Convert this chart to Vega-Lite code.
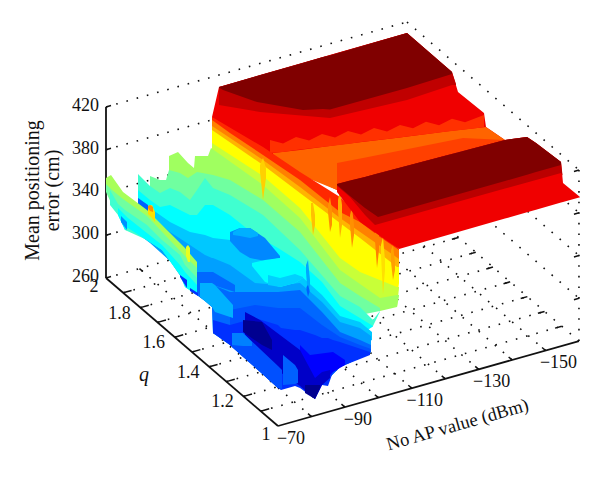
{"$schema":"https://vega.github.io/schema/vega-lite/v6.json","width":600,"height":478,"padding":0,"autosize":{"type":"none"},"background":"white","view":{"stroke":null},
"datasets":{
"frame":[
{"k":"grid","a":-70,"q":1.1,"z":260,"a2":-160,"q2":1.1,"z2":260},{"k":"grid","a":-70,"q":1.2,"z":260,"a2":-160,"q2":1.2,"z2":260},{"k":"grid","a":-70,"q":1.3,"z":260,"a2":-160,"q2":1.3,"z2":260},{"k":"grid","a":-70,"q":1.4,"z":260,"a2":-160,"q2":1.4,"z2":260},{"k":"grid","a":-70,"q":1.5,"z":260,"a2":-160,"q2":1.5,"z2":260},{"k":"grid","a":-70,"q":1.6,"z":260,"a2":-160,"q2":1.6,"z2":260},{"k":"grid","a":-70,"q":1.7,"z":260,"a2":-160,"q2":1.7,"z2":260},{"k":"grid","a":-70,"q":1.8,"z":260,"a2":-160,"q2":1.8,"z2":260},{"k":"grid","a":-70,"q":1.9,"z":260,"a2":-160,"q2":1.9,"z2":260},{"k":"grid","a":-70,"q":2,"z":260,"a2":-160,"q2":2,"z2":260},
{"k":"grid","a":-80,"q":1,"z":260,"a2":-80,"q2":2,"z2":260},{"k":"grid","a":-90,"q":1,"z":260,"a2":-90,"q2":2,"z2":260},{"k":"grid","a":-100,"q":1,"z":260,"a2":-100,"q2":2,"z2":260},{"k":"grid","a":-110,"q":1,"z":260,"a2":-110,"q2":2,"z2":260},{"k":"grid","a":-120,"q":1,"z":260,"a2":-120,"q2":2,"z2":260},{"k":"grid","a":-130,"q":1,"z":260,"a2":-130,"q2":2,"z2":260},{"k":"grid","a":-140,"q":1,"z":260,"a2":-140,"q2":2,"z2":260},{"k":"grid","a":-150,"q":1,"z":260,"a2":-150,"q2":2,"z2":260},{"k":"grid","a":-160,"q":1,"z":260,"a2":-160,"q2":2,"z2":260},
{"k":"grid","a":-70,"q":2,"z":300,"a2":-160,"q2":2,"z2":300},{"k":"grid","a":-70,"q":2,"z":340,"a2":-160,"q2":2,"z2":340},{"k":"grid","a":-70,"q":2,"z":380,"a2":-160,"q2":2,"z2":380},{"k":"grid","a":-70,"q":2,"z":420,"a2":-160,"q2":2,"z2":420},
{"k":"grid","a":-160,"q":2,"z":300,"a2":-160,"q2":1,"z2":300},{"k":"grid","a":-160,"q":2,"z":340,"a2":-160,"q2":1,"z2":340},{"k":"grid","a":-160,"q":2,"z":380,"a2":-160,"q2":1,"z2":380},{"k":"grid","a":-160,"q":2,"z":420,"a2":-160,"q2":1,"z2":420},
{"k":"grid","a":-160,"q":1,"z":260,"a2":-160,"q2":1,"z2":420},
{"k":"axis","a":-70,"q":2,"z":260,"a2":-70,"q2":2,"z2":420},{"k":"axis","a":-70,"q":2,"z":260,"a2":-70,"q2":1,"z2":260},{"k":"axis","a":-70,"q":1,"z":260,"a2":-160,"q2":1,"z2":260},
{"k":"tick","a":-70,"q":2,"z":300,"a2":-71.5,"q2":2,"z2":300},{"k":"tick","a":-70,"q":2,"z":340,"a2":-71.5,"q2":2,"z2":340},{"k":"tick","a":-70,"q":2,"z":380,"a2":-71.5,"q2":2,"z2":380},{"k":"tick","a":-70,"q":2,"z":420,"a2":-71.5,"q2":2,"z2":420},{"k":"tick","a":-70,"q":2,"z":260,"a2":-71.5,"q2":2,"z2":260},
{"k":"tick","a":-70,"q":1.1,"z":260,"a2":-72.5,"q2":1.1,"z2":260},{"k":"tick","a":-70,"q":1.2,"z":260,"a2":-72.5,"q2":1.2,"z2":260},{"k":"tick","a":-70,"q":1.3,"z":260,"a2":-72.5,"q2":1.3,"z2":260},{"k":"tick","a":-70,"q":1.4,"z":260,"a2":-72.5,"q2":1.4,"z2":260},{"k":"tick","a":-70,"q":1.5,"z":260,"a2":-72.5,"q2":1.5,"z2":260},{"k":"tick","a":-70,"q":1.6,"z":260,"a2":-72.5,"q2":1.6,"z2":260},{"k":"tick","a":-70,"q":1.7,"z":260,"a2":-72.5,"q2":1.7,"z2":260},{"k":"tick","a":-70,"q":1.8,"z":260,"a2":-72.5,"q2":1.8,"z2":260},{"k":"tick","a":-70,"q":1.9,"z":260,"a2":-72.5,"q2":1.9,"z2":260},
{"k":"tick","a":-80,"q":1,"z":260,"a2":-80,"q2":1.02,"z2":260},{"k":"tick","a":-90,"q":1,"z":260,"a2":-90,"q2":1.02,"z2":260},{"k":"tick","a":-100,"q":1,"z":260,"a2":-100,"q2":1.02,"z2":260},{"k":"tick","a":-110,"q":1,"z":260,"a2":-110,"q2":1.02,"z2":260},{"k":"tick","a":-120,"q":1,"z":260,"a2":-120,"q2":1.02,"z2":260},{"k":"tick","a":-130,"q":1,"z":260,"a2":-130,"q2":1.02,"z2":260},{"k":"tick","a":-140,"q":1,"z":260,"a2":-140,"q2":1.02,"z2":260},{"k":"tick","a":-150,"q":1,"z":260,"a2":-150,"q2":1.02,"z2":260},
{"k":"tick","a":-160,"q":1.1,"z":260,"a2":-158,"q2":1.1,"z2":260},{"k":"tick","a":-160,"q":1.2,"z":260,"a2":-158,"q2":1.2,"z2":260},{"k":"tick","a":-160,"q":1.3,"z":260,"a2":-158,"q2":1.3,"z2":260},{"k":"tick","a":-160,"q":1.4,"z":260,"a2":-158,"q2":1.4,"z2":260},{"k":"tick","a":-160,"q":1.5,"z":260,"a2":-158,"q2":1.5,"z2":260},{"k":"tick","a":-160,"q":1.6,"z":260,"a2":-158,"q2":1.6,"z2":260},{"k":"tick","a":-160,"q":1.7,"z":260,"a2":-158,"q2":1.7,"z2":260},{"k":"tick","a":-160,"q":1.8,"z":260,"a2":-158,"q2":1.8,"z2":260},{"k":"tick","a":-160,"q":1.9,"z":260,"a2":-158,"q2":1.9,"z2":260},
{"k":"tick","a":-80,"q":2,"z":260,"a2":-80,"q2":1.98,"z2":260},{"k":"tick","a":-90,"q":2,"z":260,"a2":-90,"q2":1.98,"z2":260},{"k":"tick","a":-100,"q":2,"z":260,"a2":-100,"q2":1.98,"z2":260},
{"k":"tick","a":-160,"q":1,"z":300,"a2":-158.5,"q2":1,"z2":300},{"k":"tick","a":-160,"q":1,"z":340,"a2":-158.5,"q2":1,"z2":340},{"k":"tick","a":-160,"q":1,"z":380,"a2":-158.5,"q2":1,"z2":380},{"k":"tick","a":-160,"q":1,"z":420,"a2":-158.5,"q2":1,"z2":420}
],
"labels":[
{"k":"z","t":"420","a":-70,"q":2,"z":420},{"k":"z","t":"380","a":-70,"q":2,"z":380},{"k":"z","t":"340","a":-70,"q":2,"z":340},{"k":"z","t":"300","a":-70,"q":2,"z":300},{"k":"z","t":"260","a":-70,"q":2,"z":260},
{"k":"q","t":"1.8","a":-70,"q":1.8,"z":260},{"k":"q","t":"1.6","a":-70,"q":1.6,"z":260},{"k":"q","t":"1.4","a":-70,"q":1.4,"z":260},{"k":"q","t":"1.2","a":-70,"q":1.2,"z":260},
{"k":"qe","t":"2","a":-70,"q":2,"z":260},{"k":"qe","t":"1","a":-70,"q":1,"z":260},
{"k":"a","t":"−70","a":-70,"q":1,"z":260},{"k":"a","t":"−90","a":-90,"q":1,"z":260},{"k":"a","t":"−110","a":-110,"q":1,"z":260},{"k":"a","t":"−130","a":-130,"q":1,"z":260},{"k":"a","t":"−150","a":-150,"q":1,"z":260},
{"k":"qt","t":"q","a":-70,"q":1.5,"z":260},
{"k":"at","t":"No AP value (dBm)","a":-115,"q":1,"z":260},
{"k":"zt1","t":"Mean positioning","a":-70,"q":2,"z":340},{"k":"zt2","t":"error (cm)","a":-70,"q":2,"z":340}
],
"surface":[
{"b":"mred","x":212,"y":117,"y2":125},{"b":"mred","x":219,"y":87,"y2":130},{"b":"mred","x":273,"y":71.5,"y2":160},{"b":"mred","x":337,"y":53,"y2":190},{"b":"mred","x":407,"y":33,"y2":168},{"b":"mred","x":452,"y":72,"y2":154},{"b":"mred","x":458,"y":92,"y2":152},{"b":"mred","x":484,"y":113,"y2":146},{"b":"mred","x":486,"y":127,"y2":145},{"b":"mred","x":505,"y":140,"y2":141},
{"b":"mc0","x":219,"y":87,"y2":105},{"b":"mc0","x":260,"y":75,"y2":112},{"b":"mc0","x":330,"y":55,"y2":118},{"b":"mc0","x":407,"y":33,"y2":100},{"b":"mc0","x":452,"y":72,"y2":85},{"b":"mc0","x":456,"y":84,"y2":85},
{"b":"md","x":219,"y":87,"y2":87.5},{"b":"md","x":223,"y":86,"y2":90},{"b":"md","x":257,"y":76,"y2":102},{"b":"md","x":303,"y":63,"y2":110},{"b":"md","x":323,"y":57,"y2":109},{"b":"md","x":330,"y":55.5,"y2":109.5},{"b":"md","x":407,"y":33,"y2":88},{"b":"md","x":452,"y":72,"y2":74},
{"b":"morange","x":273,"y":153,"y2":160},{"b":"morange","x":300,"y":150,"y2":175},{"b":"morange","x":337,"y":145,"y2":190},{"b":"morange","x":400,"y":137.5,"y2":168},{"b":"morange","x":450,"y":131,"y2":154},{"b":"morange","x":486,"y":127,"y2":145},{"b":"morange","x":505,"y":140,"y2":141},
{"b":"teeth","x":270,"y":140,"y2":153},{"b":"teeth","x":283,"y":143.5,"y2":152},{"b":"teeth","x":296,"y":137,"y2":150},{"b":"teeth","x":309,"y":140.5,"y2":148.6},{"b":"teeth","x":322,"y":134,"y2":147},{"b":"teeth","x":335,"y":137.4,"y2":145.4},{"b":"teeth","x":348,"y":131,"y2":144},{"b":"teeth","x":361,"y":134.4,"y2":142},{"b":"teeth","x":374,"y":128,"y2":140.6},{"b":"teeth","x":387,"y":131.4,"y2":139},{"b":"teeth","x":400,"y":125,"y2":137.4},{"b":"teeth","x":413,"y":128.3,"y2":135.8},{"b":"teeth","x":426,"y":121.8,"y2":134.2},{"b":"teeth","x":439,"y":125.2,"y2":132.6},{"b":"teeth","x":452,"y":118.7,"y2":131},{"b":"teeth","x":465,"y":122.2,"y2":129.5},{"b":"teeth","x":484,"y":115,"y2":127.3},
{"b":"mo2","x":337,"y":163,"y2":185},{"b":"mo2","x":363,"y":158,"y2":177},{"b":"mo2","x":463,"y":138,"y2":151},{"b":"mo2","x":505,"y":140,"y2":141},
{"b":"w1","x":212,"y":117,"y2":140},{"b":"w1","x":263,"y":147,"y2":175},{"b":"w1","x":300,"y":172,"y2":200},{"b":"w1","x":340,"y":197,"y2":225},{"b":"w1","x":399,"y":249,"y2":270},
{"b":"w2","x":212,"y":120,"y2":140},{"b":"w2","x":230,"y":133,"y2":150},{"b":"w2","x":263,"y":155,"y2":175},{"b":"w2","x":300,"y":180,"y2":200},{"b":"w2","x":340,"y":212,"y2":235},{"b":"w2","x":360,"y":222,"y2":245},{"b":"w2","x":380,"y":237,"y2":260},{"b":"w2","x":399,"y":250,"y2":270},
{"b":"w3","x":212,"y":126,"y2":140},{"b":"w3","x":263,"y":160,"y2":175},{"b":"w3","x":300,"y":187,"y2":200},{"b":"w3","x":340,"y":218,"y2":235},{"b":"w3","x":399,"y":259,"y2":272},
{"b":"w4","x":212,"y":130,"y2":148},{"b":"w4","x":263,"y":165,"y2":190},{"b":"w4","x":300,"y":193,"y2":215},{"b":"w4","x":340,"y":223,"y2":265},{"b":"w4","x":360,"y":238,"y2":285},{"b":"w4","x":397,"y":267,"y2":300},{"b":"w4","x":399,"y":267,"y2":283},
{"b":"w5","x":212,"y":143,"y2":160},{"b":"w5","x":263,"y":176,"y2":195},{"b":"w5","x":300,"y":208,"y2":225},{"b":"w5","x":340,"y":258,"y2":275},{"b":"w5","x":360,"y":272,"y2":290},{"b":"w5","x":397,"y":287,"y2":307},{"b":"w5","x":399,"y":287,"y2":288},
{"b":"w6","x":169,"y":156,"y2":175},{"b":"w6","x":178,"y":152,"y2":175},{"b":"w6","x":188,"y":163,"y2":185},{"b":"w6","x":194,"y":168,"y2":185},{"b":"w6","x":195,"y":156,"y2":185},{"b":"w6","x":208,"y":156,"y2":185},{"b":"w6","x":211,"y":148,"y2":185},{"b":"w6","x":263,"y":185,"y2":205},{"b":"w6","x":300,"y":218,"y2":240},{"b":"w6","x":340,"y":270,"y2":285},{"b":"w6","x":360,"y":284,"y2":300},{"b":"w6","x":380,"y":298,"y2":311},{"b":"w6","x":397,"y":295,"y2":307},{"b":"w6","x":399,"y":295,"y2":296},
{"b":"w7","x":150,"y":176,"y2":195},{"b":"w7","x":160,"y":180,"y2":205},{"b":"w7","x":166,"y":180,"y2":200},{"b":"w7","x":169,"y":170,"y2":200},{"b":"w7","x":180,"y":173,"y2":205},{"b":"w7","x":188,"y":178,"y2":205},{"b":"w7","x":197,"y":172,"y2":210},{"b":"w7","x":213,"y":175,"y2":210},{"b":"w7","x":230,"y":180,"y2":210},{"b":"w7","x":263,"y":200,"y2":230},{"b":"w7","x":300,"y":232,"y2":260},{"b":"w7","x":340,"y":283,"y2":300},{"b":"w7","x":360,"y":296,"y2":315},{"b":"w7","x":380,"y":308,"y2":311},
{"b":"w8","x":138,"y":174,"y2":200},{"b":"w8","x":150,"y":186,"y2":210},{"b":"w8","x":160,"y":193,"y2":220},{"b":"w8","x":170,"y":188,"y2":220},{"b":"w8","x":180,"y":192,"y2":225},{"b":"w8","x":190,"y":200,"y2":230},{"b":"w8","x":197,"y":190,"y2":230},{"b":"w8","x":205,"y":178,"y2":225},{"b":"w8","x":213,"y":188,"y2":230},{"b":"w8","x":230,"y":195,"y2":235},{"b":"w8","x":263,"y":215,"y2":245},{"b":"w8","x":300,"y":250,"y2":280},{"b":"w8","x":340,"y":296,"y2":315},{"b":"w8","x":360,"y":307,"y2":330},{"b":"w8","x":373,"y":320,"y2":326},{"b":"w8","x":380,"y":311,"y2":311.5},
{"b":"w9","x":138,"y":190,"y2":215},{"b":"w9","x":150,"y":200,"y2":225},{"b":"w9","x":160,"y":207,"y2":235},{"b":"w9","x":170,"y":205,"y2":240},{"b":"w9","x":180,"y":210,"y2":245},{"b":"w9","x":190,"y":215,"y2":250},{"b":"w9","x":197,"y":215,"y2":250},{"b":"w9","x":205,"y":205,"y2":250},{"b":"w9","x":213,"y":205,"y2":250},{"b":"w9","x":230,"y":215,"y2":260},{"b":"w9","x":255,"y":235,"y2":270},{"b":"w9","x":278,"y":248,"y2":280},{"b":"w9","x":300,"y":262,"y2":290},{"b":"w9","x":322,"y":282,"y2":310},{"b":"w9","x":340,"y":306,"y2":325},{"b":"w9","x":360,"y":318,"y2":335},{"b":"w9","x":373,"y":326,"y2":326.5},
{"b":"w10","x":138,"y":198,"y2":234},{"b":"w10","x":150,"y":208,"y2":240},{"b":"w10","x":170,"y":222,"y2":261},{"b":"w10","x":190,"y":232,"y2":270},{"b":"w10","x":205,"y":235,"y2":275},{"b":"w10","x":213,"y":238,"y2":280},{"b":"w10","x":230,"y":240,"y2":285},{"b":"w10","x":255,"y":255,"y2":295},{"b":"w10","x":278,"y":262,"y2":300},{"b":"w10","x":300,"y":275,"y2":310},{"b":"w10","x":322,"y":295,"y2":325},{"b":"w10","x":340,"y":316,"y2":335},{"b":"w10","x":360,"y":322,"y2":345},{"b":"w10","x":372,"y":332,"y2":340},
{"b":"w11","x":138,"y":205,"y2":234},{"b":"w11","x":150,"y":215,"y2":243},{"b":"w11","x":170,"y":232,"y2":261},{"b":"w11","x":190,"y":245,"y2":290},{"b":"w11","x":205,"y":255,"y2":301},{"b":"w11","x":212,"y":258,"y2":307},{"b":"w11","x":213,"y":258,"y2":333},{"b":"w11","x":230,"y":265,"y2":345},{"b":"w11","x":255,"y":283,"y2":367},{"b":"w11","x":278,"y":285,"y2":388},{"b":"w11","x":300,"y":283,"y2":382},{"b":"w11","x":322,"y":302,"y2":385},{"b":"w11","x":340,"y":322,"y2":367},{"b":"w11","x":360,"y":328,"y2":358},{"b":"w11","x":371,"y":336,"y2":352},
{"b":"w12","x":197,"y":272,"y2":295},{"b":"w12","x":205,"y":275,"y2":301},{"b":"w12","x":212,"y":280,"y2":307},{"b":"w12","x":213,"y":285,"y2":333},{"b":"w12","x":230,"y":292,"y2":345},{"b":"w12","x":255,"y":292,"y2":367},{"b":"w12","x":278,"y":292,"y2":388},{"b":"w12","x":300,"y":290,"y2":382},{"b":"w12","x":322,"y":312,"y2":385},{"b":"w12","x":340,"y":332,"y2":367},{"b":"w12","x":360,"y":340,"y2":358},{"b":"w12","x":371,"y":345,"y2":352},
{"b":"w12b","x":230,"y":310,"y2":345},{"b":"w12b","x":255,"y":305,"y2":367},{"b":"w12b","x":278,"y":308,"y2":388},{"b":"w12b","x":300,"y":308,"y2":382},{"b":"w12b","x":322,"y":325,"y2":385},{"b":"w12b","x":340,"y":337,"y2":367},{"b":"w12b","x":360,"y":345,"y2":358},{"b":"w12b","x":371,"y":349,"y2":352},
{"b":"w13","x":213,"y":320,"y2":333},{"b":"w13","x":230,"y":325,"y2":345},{"b":"w13","x":255,"y":318,"y2":367},{"b":"w13","x":278,"y":325,"y2":388},{"b":"w13","x":281,"y":328,"y2":390},{"b":"w13","x":295,"y":330,"y2":386},{"b":"w13","x":300,"y":330,"y2":388},{"b":"w13","x":315,"y":335,"y2":399},{"b":"w13","x":322,"y":338,"y2":385},{"b":"w13","x":328,"y":338,"y2":386},{"b":"w13","x":333,"y":340,"y2":372},{"b":"w13","x":340,"y":342,"y2":367},{"b":"w13","x":370,"y":352,"y2":355},
{"b":"p0","x":138,"y":198,"y2":205},{"b":"p0","x":148,"y":205,"y2":212},
{"b":"p9","x":197,"y":272,"y2":295},{"b":"p9","x":213,"y":272,"y2":285},{"b":"p9","x":235,"y":285,"y2":292},
{"b":"p1","x":230,"y":232,"y2":241},{"b":"p1","x":240,"y":228,"y2":252},{"b":"p1","x":250,"y":228,"y2":258},{"b":"p1","x":265,"y":238,"y2":261},{"b":"p1","x":280,"y":256,"y2":258},
{"b":"p1b","x":233,"y":232,"y2":235},{"b":"p1b","x":240,"y":228,"y2":236},{"b":"p1b","x":250,"y":228,"y2":238},{"b":"p1b","x":258,"y":233,"y2":236},
{"b":"p2","x":252,"y":263,"y2":266},{"b":"p2","x":265,"y":260,"y2":282},{"b":"p2","x":280,"y":258,"y2":287},{"b":"p2","x":295,"y":268,"y2":283},{"b":"p2","x":303,"y":277,"y2":278},
{"b":"p2b","x":268,"y":275,"y2":285},{"b":"p2b","x":280,"y":278,"y2":287},{"b":"p2b","x":295,"y":274,"y2":283},{"b":"p2b","x":303,"y":277,"y2":278},
{"b":"p3","x":200,"y":283,"y2":297},{"b":"p3","x":212,"y":283,"y2":307},{"b":"p3","x":215,"y":285,"y2":312},{"b":"p3","x":233,"y":305,"y2":318},
{"b":"p8","x":300,"y":345,"y2":382},{"b":"p8","x":310,"y":355,"y2":395},{"b":"p8","x":333,"y":352,"y2":372},{"b":"p8","x":345,"y":360,"y2":365},
{"b":"p4","x":245,"y":312,"y2":335},{"b":"p4","x":260,"y":320,"y2":352},{"b":"p4","x":280,"y":335,"y2":372},{"b":"p4","x":300,"y":350,"y2":386},{"b":"p4","x":315,"y":378,"y2":399},{"b":"p4","x":322,"y":372,"y2":385},{"b":"p4","x":330,"y":370,"y2":378},
{"b":"p5","x":243,"y":320,"y2":332},{"b":"p5","x":262,"y":322,"y2":345},{"b":"p5","x":272,"y":340,"y2":350},
{"b":"p5b","x":305,"y":385,"y2":393},{"b":"p5b","x":315,"y":385,"y2":399},{"b":"p5b","x":320,"y":385,"y2":388},
{"b":"p6","x":232,"y":333,"y2":347},{"b":"p6","x":243,"y":333,"y2":357},{"b":"p6","x":260,"y":349,"y2":372},{"b":"p6","x":278,"y":366,"y2":388},{"b":"p6","x":282,"y":370,"y2":389},
{"b":"p6b","x":232,"y":333,"y2":345},{"b":"p6b","x":243,"y":333,"y2":346},{"b":"p6b","x":252,"y":342,"y2":346},
{"b":"p7","x":283,"y":355,"y2":385},{"b":"p7","x":295,"y":365,"y2":384},{"b":"p7","x":298,"y":370,"y2":383},
{"b":"s1","x":106,"y":178,"y2":190},{"b":"s1","x":111,"y":175,"y2":195},{"b":"s1","x":123,"y":192,"y2":205},{"b":"s1","x":147,"y":210,"y2":222},{"b":"s1","x":165,"y":228,"y2":240},{"b":"s1","x":185,"y":248,"y2":262},{"b":"s1","x":197,"y":262,"y2":272},
{"b":"s2","x":106,"y":184,"y2":192},{"b":"s2","x":112,"y":190,"y2":205},{"b":"s2","x":123,"y":199,"y2":212},{"b":"s2","x":147,"y":216,"y2":232},{"b":"s2","x":165,"y":235,"y2":250},{"b":"s2","x":185,"y":256,"y2":275},{"b":"s2","x":197,"y":268,"y2":295},
{"b":"s3","x":110,"y":190,"y2":205},{"b":"s3","x":118,"y":204,"y2":215},{"b":"s3","x":125,"y":210,"y2":230},{"b":"s3","x":147,"y":225,"y2":240},{"b":"s3","x":162,"y":240,"y2":250},{"b":"s3","x":180,"y":255,"y2":275},{"b":"s3","x":185,"y":265,"y2":287},{"b":"s3","x":197,"y":278,"y2":295},
{"b":"s4","x":118,"y":208,"y2":215},{"b":"s4","x":125,"y":215,"y2":230},{"b":"s4","x":128,"y":218,"y2":228},{"b":"s4","x":162,"y":245,"y2":250},{"b":"s4","x":180,"y":265,"y2":275},{"b":"s4","x":185,"y":272,"y2":287},{"b":"s4","x":197,"y":285,"y2":295},
{"b":"s5","x":121,"y":216,"y2":222},{"b":"s5","x":127,"y":222,"y2":230},
{"b":"y1","x":148,"y":206,"y2":214},{"b":"y1","x":152,"y":205,"y2":218},{"b":"y1","x":155,"y":212,"y2":222},
{"b":"y1b","x":148,"y":206,"y2":208},{"b":"y1b","x":150,"y":205,"y2":211},{"b":"y1b","x":153,"y":207,"y2":212},
{"b":"y2","x":186,"y":247,"y2":256},{"b":"y2","x":188,"y":245,"y2":262},{"b":"y2","x":190,"y":248,"y2":262},
{"b":"d1","x":180,"y":275,"y2":277},{"b":"d1","x":187,"y":280,"y2":288},
{"b":"d2","x":190,"y":288,"y2":291},{"b":"d2","x":198,"y":293,"y2":296},
{"b":"sp1","x":260,"y":165,"y2":172},{"b":"sp1","x":263,"y":158,"y2":200},{"b":"sp1","x":266,"y":168,"y2":178},
{"b":"sp2","x":311,"y":203,"y2":215},{"b":"sp2","x":313,"y":203,"y2":235},{"b":"sp2","x":315,"y":215,"y2":225},
{"b":"sp3","x":328,"y":205,"y2":212},{"b":"sp3","x":330,"y":197,"y2":232},{"b":"sp3","x":332,"y":210,"y2":225},
{"b":"sp4","x":338,"y":200,"y2":210},{"b":"sp4","x":340,"y":190,"y2":238},{"b":"sp4","x":342,"y":205,"y2":225},
{"b":"sp5","x":350,"y":215,"y2":225},{"b":"sp5","x":352,"y":207,"y2":248},{"b":"sp5","x":354,"y":225,"y2":235},
{"b":"sp6","x":375,"y":230,"y2":240},{"b":"sp6","x":377,"y":220,"y2":268},{"b":"sp6","x":379,"y":235,"y2":250},
{"b":"sp7","x":381,"y":245,"y2":255},{"b":"sp7","x":383,"y":237,"y2":294},{"b":"sp7","x":385,"y":260,"y2":270},
{"b":"sp8","x":391,"y":250,"y2":262},{"b":"sp8","x":393,"y":245,"y2":280},{"b":"sp8","x":395,"y":262,"y2":270},
{"b":"sp9","x":306,"y":265,"y2":272},{"b":"sp9","x":308,"y":260,"y2":297},{"b":"sp9","x":310,"y":280,"y2":285},
{"b":"sp10","x":306.5,"y":287,"y2":290},{"b":"sp10","x":308,"y":285,"y2":297},{"b":"sp10","x":309.5,"y":290,"y2":292},
{"b":"fbr","x":337,"y":184,"y2":192},{"b":"fbr","x":360,"y":178,"y2":222},{"b":"fbr","x":380,"y":173,"y2":236},{"b":"fbr","x":399,"y":168,"y2":249},{"b":"fbr","x":505,"y":140,"y2":218.6},{"b":"fbr","x":527,"y":137,"y2":212.3},{"b":"fbr","x":536,"y":143,"y2":209.7},{"b":"fbr","x":561,"y":162,"y2":202.5},{"b":"fbr","x":563,"y":183,"y2":202},{"b":"fbr","x":580,"y":197,"y2":197.2},
{"b":"fbc","x":337,"y":184,"y2":186},{"b":"fbc","x":350,"y":181,"y2":197},{"b":"fbc","x":365,"y":177,"y2":215},{"b":"fbc","x":375,"y":174,"y2":225},{"b":"fbc","x":505,"y":140,"y2":188.6},{"b":"fbc","x":527,"y":137,"y2":182.5},{"b":"fbc","x":536,"y":143,"y2":180},{"b":"fbc","x":561,"y":162,"y2":173},{"b":"fbc","x":562.5,"y":175,"y2":175.5},
{"b":"fbd","x":337,"y":184,"y2":185},{"b":"fbd","x":350,"y":180.5,"y2":196},{"b":"fbd","x":365,"y":177,"y2":208},{"b":"fbd","x":378,"y":173.5,"y2":217},{"b":"fbd","x":505,"y":140,"y2":181},{"b":"fbd","x":527,"y":137,"y2":174.7},{"b":"fbd","x":536,"y":143,"y2":172},{"b":"fbd","x":561,"y":162,"y2":165}
]},
"encoding":{},
"layer":[
{"data":{"name":"frame"},"transform":[
{"calculate":"278+(-70-datum.a)*3.344-(datum.q-1)*172","as":"sx"},
{"calculate":"426-(-70-datum.a)*0.944-(datum.q-1)*148-(datum.z-260)*1.069","as":"sy"},
{"calculate":"278+(-70-datum.a2)*3.344-(datum.q2-1)*172","as":"sx2"},
{"calculate":"426-(-70-datum.a2)*0.944-(datum.q2-1)*148-(datum.z2-260)*1.069","as":"sy2"}],
"encoding":{
"x":{"field":"sx","type":"quantitative","scale":{"domain":[0,600],"nice":false,"zero":false},"axis":null},
"y":{"field":"sy","type":"quantitative","scale":{"domain":[478,0],"nice":false,"zero":false},"axis":null},
"x2":{"field":"sx2"},"y2":{"field":"sy2"}},
"layer":[
{"transform":[{"filter":"datum.k=='grid'"}],"mark":{"type":"rule","color":"#111","strokeWidth":1.6,"strokeDash":[1.6,9]}},
{"transform":[{"filter":"datum.k=='axis'"}],"mark":{"type":"rule","color":"#111","strokeWidth":1.8}},
{"transform":[{"filter":"datum.k=='tick'"}],"mark":{"type":"rule","color":"#111","strokeWidth":1.5}}
]},
{"data":{"name":"surface"},"mark":{"type":"area","clip":false,"opacity":1},
"encoding":{
"x":{"field":"x","type":"quantitative","scale":{"domain":[0,600],"nice":false,"zero":false},"axis":null},
"y":{"field":"y","type":"quantitative","scale":{"domain":[478,0],"nice":false,"zero":false},"axis":null},
"y2":{"field":"y2"},
"color":{"field":"b","type":"nominal","legend":null,"scale":{
"domain":["mred","mc0","md","morange","teeth","mo2","w1","w2","w3","w4","w5","w6","w7","w8","w9","w10","w11","w12","w12b","w13","p0","p9","p1","p1b","p2","p2b","p3","p8","p4","p5","p5b","p6","p6b","p7","s1","s2","s3","s4","s5","y1","y1b","y2","d1","d2","sp1","sp2","sp3","sp4","sp5","sp6","sp7","sp8","sp9","sp10","fbr","fbc","fbd"],
"range":["#f00000","#c00000","#800000","#ff6400","#ff3000","#ff4000","#ff2800","#ff8000","#ffb400","#ffff00","#c8ff38","#a0ff60","#70ffa0","#40ffd0","#00ffff","#00c8ff","#00a0ff","#0068ff","#0050ff","#0030ff","#0060ff","#0068ff","#0088ff","#00b0ff","#00ffff","#00d0ff","#00b0ff","#0000ff","#0000c8","#000090","#000090","#0050ff","#0080ff","#0060ff","#a8ff58","#70ffa0","#40ffd0","#00ffff","#0090ff","#ffe000","#ff9000","#e8ff20","#0030ff","#0030ff","#ffd000","#ffc000","#ff9000","#ffb000","#ff9000","#ff8000","#ffe000","#ffa000","#00a8ff","#0060ff","#f00000","#bb0000","#800000"]}}}},
{"data":{"name":"labels"},"transform":[
{"calculate":"278+(-70-datum.a)*3.344-(datum.q-1)*172","as":"sx"},
{"calculate":"426-(-70-datum.a)*0.944-(datum.q-1)*148-(datum.z-260)*1.069","as":"sy"}],
"encoding":{
"x":{"field":"sx","type":"quantitative","scale":{"domain":[0,600],"nice":false,"zero":false},"axis":null},
"y":{"field":"sy","type":"quantitative","scale":{"domain":[478,0],"nice":false,"zero":false},"axis":null},
"text":{"field":"t"}},
"layer":[
{"transform":[{"filter":"datum.k=='z'"}],"mark":{"type":"text","font":"Liberation Serif","fontSize":18,"color":"#111","align":"right","baseline":"middle","dx":-7,"dy":-1}},
{"transform":[{"filter":"datum.k=='q'"}],"mark":{"type":"text","font":"Liberation Serif","fontSize":18,"color":"#111","align":"center","baseline":"middle","dx":-21,"dy":6}},
{"transform":[{"filter":"datum.k=='qe'"}],"mark":{"type":"text","font":"Liberation Serif","fontSize":18,"color":"#111","align":"center","baseline":"middle","dx":-12,"dy":9}},
{"transform":[{"filter":"datum.k=='a'"}],"mark":{"type":"text","font":"Liberation Serif","fontSize":18,"color":"#111","align":"center","baseline":"middle","dx":13,"dy":13}},
{"transform":[{"filter":"datum.k=='qt'"}],"mark":{"type":"text","font":"Liberation Serif","fontStyle":"italic","fontSize":20,"color":"#111","align":"center","baseline":"middle","dx":-48,"dy":23}},
{"transform":[{"filter":"datum.k=='at'"}],"mark":{"type":"text","font":"Liberation Serif","fontSize":18.5,"color":"#111","align":"center","baseline":"middle","angle":-16,"dx":16.6,"dy":47.4}},
{"transform":[{"filter":"datum.k=='zt1'"}],"mark":{"type":"text","font":"Liberation Serif","fontSize":20,"color":"#111","align":"center","baseline":"middle","angle":-90,"dx":2,"dy":-73}},
{"transform":[{"filter":"datum.k=='zt2'"}],"mark":{"type":"text","font":"Liberation Serif","fontSize":20,"color":"#111","align":"center","baseline":"middle","angle":-90,"dx":2,"dy":-53}}
]}
]}
